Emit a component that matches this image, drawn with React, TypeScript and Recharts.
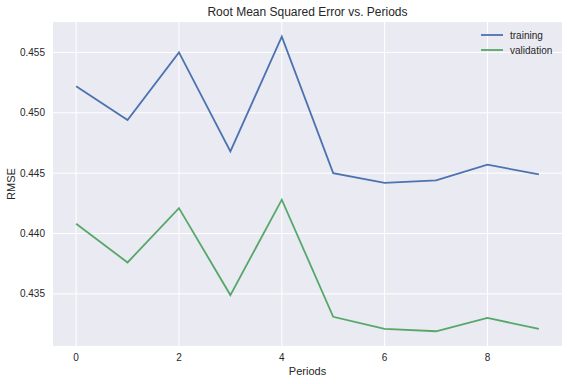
import React from 'react';
import { LineChart, Line, XAxis, YAxis, CartesianGrid, Customized } from 'recharts';

const periods = [0, 1, 2, 3, 4, 5, 6, 7, 8, 9];
const training = [0.4522, 0.4494, 0.455, 0.4468, 0.4563, 0.445, 0.4442, 0.4444, 0.4457, 0.4449];
const validation = [0.4408, 0.4376, 0.4421, 0.4349, 0.4428, 0.4331, 0.4321, 0.4319, 0.433, 0.4321];
const xTicks = [0, 2, 4, 6, 8];
const yTicks = [0.435, 0.44, 0.445, 0.45, 0.455];
const seriesNames = ['training', 'validation'];
const seriesColors = ['#4C72B0', '#55A868'];

const data = periods.map((p, i) => ({ period: p, training: training[i], validation: validation[i] }));

const FONT = '"Liberation Sans", Arial, sans-serif';
const TXT = '#262626';

const Texts = () => (
  <g fontFamily={FONT} fill={TXT}>
    <text x={307.5} y={16} textAnchor="middle" fontSize={12}>Root Mean Squared Error vs. Periods</text>
    <text x={307.5} y={375} textAnchor="middle" fontSize={11}>Periods</text>
    <text x={15} y={184} textAnchor="middle" fontSize={11} transform="rotate(-90 15 184)">RMSE</text>
    {seriesNames.map((name, i) => (
      <g key={name}>
        <line x1={481} y1={35 + i * 15} x2={503} y2={35 + i * 15} stroke={seriesColors[i]} strokeWidth={1.8} />
        <text x={510} y={39 + i * 15} fontSize={10}>{name}</text>
      </g>
    ))}
  </g>
);

export default function App() {
  return (
    <div style={{ position: 'absolute', left: 0, top: 0, width: 568, height: 384, background: '#fff' }}>
      <LineChart width={568} height={384} data={data} margin={{ top: 22, right: 6, bottom: 0, left: 0 }}>
        <CartesianGrid fill="#EAEAF2" stroke="#ffffff" strokeWidth={1} verticalValues={xTicks} horizontalValues={yTicks} />
        <XAxis
          dataKey="period"
          type="number"
          domain={[-0.45, 9.45]}
          ticks={xTicks}
          axisLine={false}
          tickLine={false}
          height={38}
          tick={{ fontSize: 10, fill: TXT, fontFamily: FONT }}
          tickMargin={2}
          interval={0}
          allowDataOverflow
        />
        <YAxis
          type="number"
          domain={[0.43068, 0.45752]}
          ticks={yTicks}
          axisLine={false}
          tickLine={false}
          width={53}
          tick={{ fontSize: 10, fill: TXT, fontFamily: FONT }}
          tickMargin={2}
          tickFormatter={(v: number) => v.toFixed(3)}
          interval={0}
          allowDataOverflow
        />
        <Line type="linear" dataKey="training" stroke={seriesColors[0]} strokeWidth={1.8} dot={false} isAnimationActive={false} />
        <Line type="linear" dataKey="validation" stroke={seriesColors[1]} strokeWidth={1.8} dot={false} isAnimationActive={false} />
        <Customized component={Texts} />
      </LineChart>
    </div>
  );
}
